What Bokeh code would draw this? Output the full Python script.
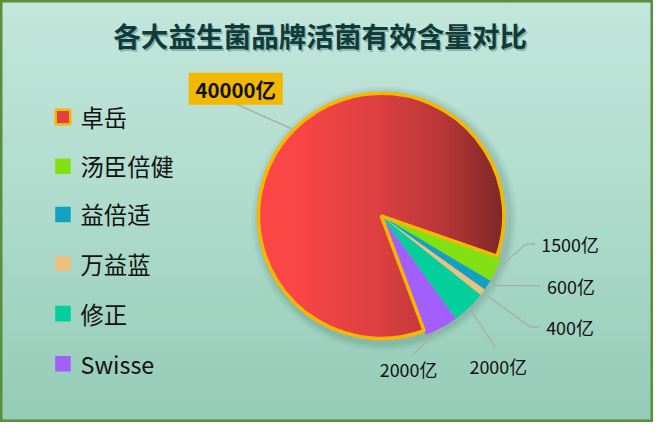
import numpy as np
from bokeh.plotting import figure
from bokeh.models import Range1d
from bokeh.core.properties import value
from bokeh.embed import file_html
from bokeh.resources import INLINE

# ---------------- data ----------------
title_text = "各大益生菌品牌活菌有效含量对比"
brands = ["卓岳", "汤臣倍健", "益倍适", "万益蓝", "修正", "Swisse"]
amounts = [40000, 1500, 600, 400, 2000, 2000]
unit = "亿"
colors = ["#e24141", "#80e012", "#12a1c1", "#e9c27f", "#04cf9c", "#a25ffb"]

# ---------------- layout (reference pixel coords, scaled to the figure) ----------------
W, H = 653, 422
REF_W, REF_H = 669, 438
SX, SY = W / REF_W, H / REF_H
S = (SX + SY) / 2


def X(xr):
    return xr * SX


def Y(yr):
    return H - yr * SY


def px(v):
    return f"{v * S:.1f}px"


FONT = value("Noto Sans CJK SC")
cx, cy = X(390), Y(223.5)
r_main, r_small = 126.5 * S, 131.0 * S
start_deg = 290.5  # clockwise drawing start

legend_y = [121, 172, 222, 273, 325, 377]
legend_mx, legend_tx = 64, 82

# label end points (ref coords): elbow, end, text pos, align
lab_elbow = [(240, 107), (538, 253), (553, 296), (543, 339), (507, 360), (423, 367)]
lab_end = [(240, 107), (548, 253), (553, 296), (552, 339), (507, 360), (423, 367)]
lab_text = [(241, 91.5), (554, 253), (560, 296), (559, 339), (510, 379), (418, 382)]
lab_align = ["center", "left", "left", "left", "center", "center"]

p = figure(width=W, height=H, x_range=Range1d(0, W), y_range=Range1d(0, H),
           output_backend="svg", toolbar_location=None, min_border=0,
           x_axis_location=None, y_axis_location=None)
p.grid.visible = False
p.background_fill_alpha = 0
p.border_fill_alpha = 0
p.outline_line_color = "#5b8e3a"
p.outline_line_width = 4
p.styles = {"background": "linear-gradient(180deg, #c4e6dc 0%, #aedbcc 50%, #93cbb6 100%)"}

# ---------------- pie geometry ----------------
vals = np.array(amounts, dtype=float)
frac = vals / vals.sum()
a0 = np.deg2rad(start_deg)
cum = np.concatenate([[0], np.cumsum(frac)[:-1]])
ends = a0 - 2 * np.pi * cum
starts = ends - 2 * np.pi * frac
mids = (starts + ends) / 2

# shadow
for k, a in [(8, 0.03), (6, 0.04), (4, 0.05), (2, 0.06)]:
    p.circle(x=cx + 3, y=cy - 3, radius=r_small - 2 + k, fill_color="#1d4a3e",
             fill_alpha=a, line_color=None)

radii = [r_main] + [r_small] * (len(amounts) - 1)
p.wedge(x=[cx] * len(amounts), y=[cy] * len(amounts), radius=radii,
        start_angle=list(starts), end_angle=list(ends), direction="anticlock",
        fill_color=colors, line_color=None)

# gradient fill of the first slice
N = 540
R = r_main + 1
g = (np.arange(N) + 0.5) * 2 * R / N - R
gx, gy = np.meshgrid(g, g)
dist = np.hypot(gx, gy)
ang = np.arctan2(gy, gx)
rel = np.mod(ang - starts[0], 2 * np.pi)
inside = (dist <= r_main) & (rel <= (ends[0] - starts[0]))
t = np.clip((gx + r_main) / (2 * r_main), 0, 1)
stops_t = [0.0, 0.15, 0.5, 0.75, 1.0]
stops_c = np.array([[253, 71, 71], [250, 70, 70], [220, 64, 64], [186, 55, 56], [126, 40, 40]])
img = np.zeros((N, N, 4), dtype=np.uint8)
for ch in range(3):
    img[..., ch] = np.interp(t, stops_t, stops_c[:, ch]).astype(np.uint8)
img[..., 3] = np.where(inside, 255, 0)
p.image_rgba(image=[img.view(np.uint32).reshape(N, N)], x=cx - R, y=cy - R, dw=2 * R, dh=2 * R)

p.wedge(x=cx, y=cy, radius=r_main, start_angle=starts[0], end_angle=ends[0],
        direction="anticlock", fill_alpha=0, line_color="#f5b800", line_width=3.5)

# ---------------- leader lines & labels ----------------
xs, ys = [], []
for i in range(len(amounts)):
    rr = radii[i] + (1.5 if i == 0 else 0.5)
    sx, sy = cx + rr * np.cos(mids[i]), cy + rr * np.sin(mids[i])
    xs.append([sx, X(lab_elbow[i][0]), X(lab_end[i][0])])
    ys.append([sy, Y(lab_elbow[i][1]), Y(lab_end[i][1])])
p.multi_line(xs=xs, ys=ys, line_color="#a8b2ad", line_width=1.6)

labels = [f"{v}{unit}" for v in amounts]
# highlighted label box
p.rect(x=X(lab_text[0][0]), y=Y(lab_text[0][1]), width=97 * S, height=33 * S,
       width_units="screen", height_units="screen", fill_color="#f2b800", line_color=None)
p.text(x=[X(lab_text[0][0])], y=[Y(lab_text[0][1])], text=[labels[0]], text_font=FONT,
       text_font_size=px(21), text_font_style="bold", text_color="#111111",
       text_align="center", text_baseline="middle")
for i in range(1, len(amounts)):
    p.text(x=[X(lab_text[i][0])], y=[Y(lab_text[i][1])], text=[labels[i]], text_font=FONT,
           text_font_size=px(18.5), text_color="#111111", text_align=lab_align[i],
           text_baseline="middle")

# ---------------- legend ----------------
lx = [X(legend_mx)] * len(brands)
ly = [Y(v) for v in legend_y]
p.scatter(x=lx[1:], y=ly[1:], marker="square", size=16 * S, fill_color=colors[1:], line_color=None)
p.scatter(x=lx[:1], y=ly[:1], marker="square", size=15 * S, fill_color=colors[0],
          line_color="#f5b800", line_width=2.5)
p.text(x=[X(legend_tx)] * len(brands), y=ly, text=brands, text_font=FONT,
       text_font_size=px(24), text_color="#111111", text_baseline="middle", text_align="left")

# ---------------- title ----------------
p.text(x=[X(329)], y=[Y(37.5)], text=[title_text], text_font=FONT, text_font_size=px(28.5),
       text_font_style="bold", text_color="#5f8a80", text_alpha=0.55,
       text_align="center", text_baseline="middle")
p.text(x=[X(327.5)], y=[Y(36)], text=[title_text], text_font=FONT, text_font_size=px(28.5),
       text_font_style="bold", text_color="#0f3b3a", text_align="center", text_baseline="middle")

open("out.html", "w").write(file_html(p, INLINE))
